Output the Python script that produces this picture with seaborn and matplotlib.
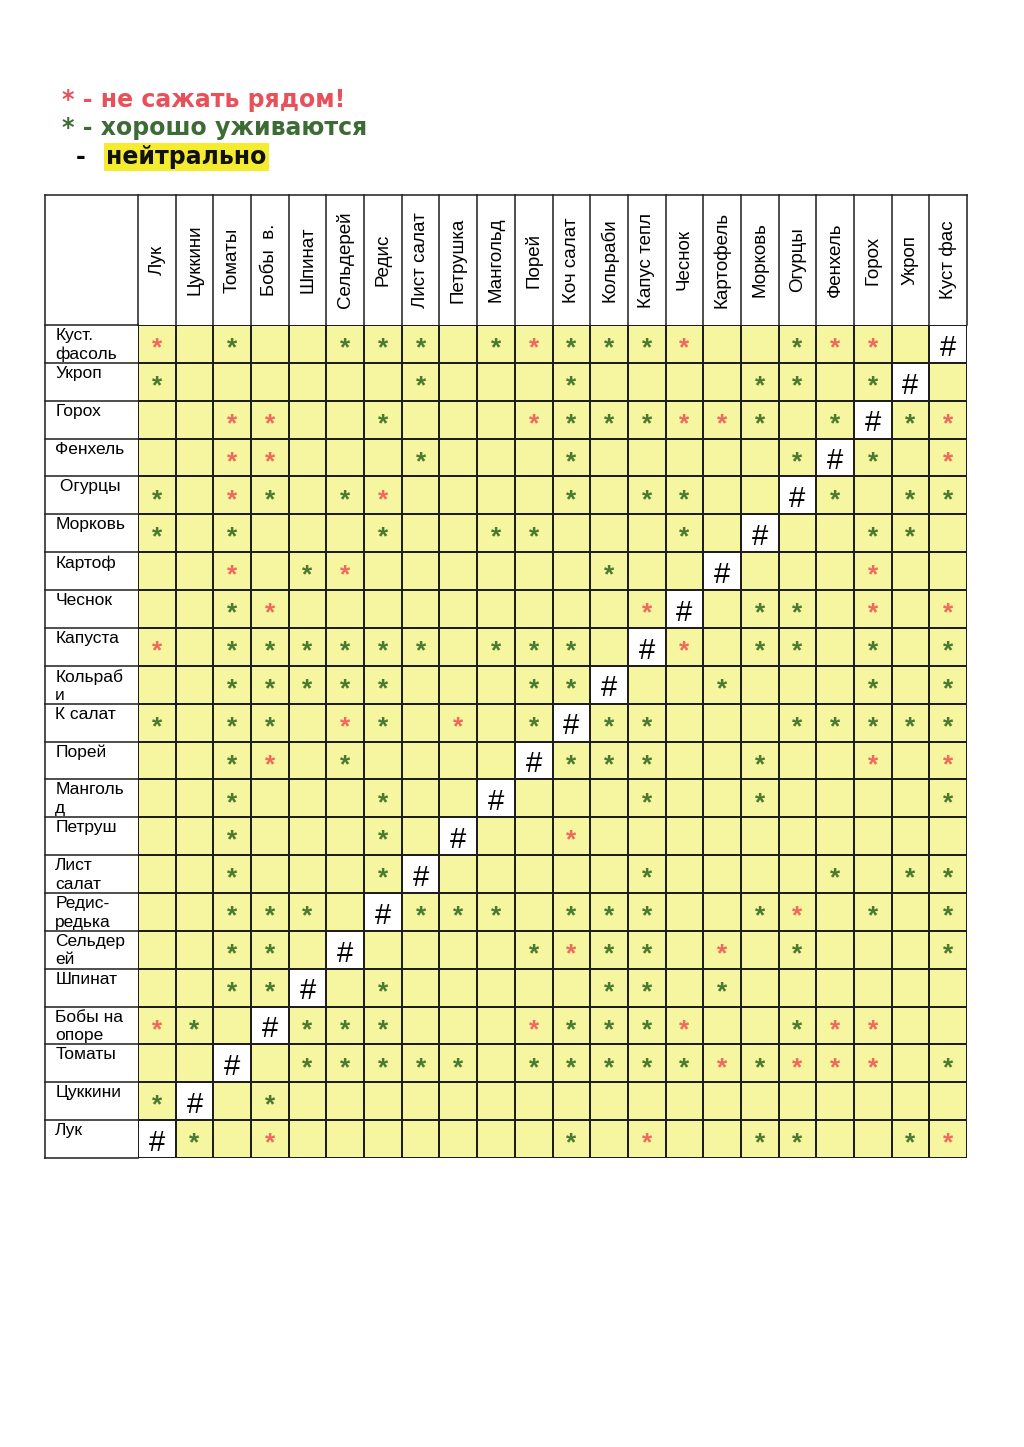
import numpy as np
import matplotlib
matplotlib.use("Agg")
import matplotlib.pyplot as plt
import seaborn as sns
from matplotlib.colors import ListedColormap

# заголовки столбцов
col_labels = ["Лук", "Цуккини", "Томаты", "Бобы  в.", "Шпинат", "Сельдерей", "Редис",
              "Лист салат", "Петрушка", "Мангольд", "Порей", "Коч салат", "Кольраби",
              "Капус тепл", "Чеснок", "Картофель", "Морковь", "Огурцы", "Фенхель",
              "Горох", "Укроп", "Куст фас"]

# подписи строк
row_labels = ["Куст.\nфасоль", "Укроп", "Горох", "Фенхель", " Огурцы", "Морковь", "Картоф",
              "Чеснок", "Капуста", "Кольраб\nи", "К салат", "Порей", "Манголь\nд", "Петруш",
              "Лист\nсалат", "Редис-\nредька", "Сельдер\nей", "Шпинат", "Бобы на\nопоре",
              "Томаты", "Цуккини", "Лук"]

# b - не сажать рядом, g - хорошо уживаются, # - та же культура, . - нейтрально
compat = [
    "b.g..ggg.gbgggb..gbb.#",
    "g......g...g....gg.g#.",
    "..bb..g...bgggbbg.g#gb",
    "..bb...g...g.....g#g.b",
    "g.bg.gb....g.gg..#g.gg",
    "g.g...g..gg...g.#..gg.",
    "..b.gb......g..#...b..",
    "..gb.........b#.gg.b.b",
    "b.gggggg.ggg.#b.gg.g.g",
    "..ggggg...gg#..g...g.g",
    "g.gg.bg.b.g#gg...ggggg",
    "..gb.g....#ggg..g..b.b",
    "..g...g..#...g..g....g",
    "..g...g.#..b..........",
    "..g...g#.....g....g.gg",
    "..ggg.#ggg.ggg..gb.g.g",
    "..gg.#....gbgg.b.g...g",
    "..gg#.g.....gg.g......",
    "bg.#ggg...bgggb..gbb..",
    "..#.ggggg.gggggbgbbb.g",
    "g#.g..................",
    "#g.b.......g.b..gg..gb",
]

legend_bad = "* - не сажать рядом!"
legend_good = "* - хорошо уживаются"
legend_neutral = "нейтрально"

YELLOW = "#f6f5a0"
RED = "#f06a5c"
GREEN = "#4a7a30"
LINE = "#1e1e1e"

codes = np.array([list(r) for r in compat])
cells = (codes == "#").astype(int)
annot = np.where(codes == "#", "#", np.where(codes == ".", "", "*"))

fig = plt.figure(figsize=(10.24, 14.47), dpi=100)
W, H = 1024, 1447
x0, x1, y0, y1 = 138, 967, 325, 1158
ax = fig.add_axes([x0 / W, 1 - y1 / H, (x1 - x0) / W, (y1 - y0) / H])

sns.heatmap(cells, ax=ax, cmap=ListedColormap([YELLOW, "white"]), cbar=False,
            linewidths=1.1, linecolor=LINE, annot=annot, fmt="",
            xticklabels=False, yticklabels=False,
            annot_kws={"family": "Liberation Sans"})

# раскраска звездочек (seaborn подписывает все ячейки построчно)
for t, code in zip(ax.texts, codes.ravel()):
    x, y = t.get_position()
    if code == "#":
        t.set_color("black")
        t.set_fontsize(21)
        t.set_position((x, y + 0.1))
    elif code != ".":
        t.set_color(RED if code == "b" else GREEN)
        t.set_fontsize(19)
        t.set_fontweight("bold")
        t.set_position((x, y + 0.12))

n = len(col_labels)
px = (x1 - x0) / n
py = (y1 - y0) / n
left = (45 - x0) / px
top = (195 - y0) / py

kw = dict(color=LINE, lw=1.1, clip_on=False, solid_capstyle="projecting")
ax.plot([left, left], [top, n], **kw)
ax.plot([left, n], [top, top], **kw)
for j in range(n + 1):
    ax.plot([j, j], [top, 0], **kw)
for i in range(n + 1):
    ax.plot([left, 0], [i, i], **kw)

for j, lab in enumerate(col_labels):
    ax.text(j + 0.5, top / 2, lab, rotation=90, ha="center", va="center",
            fontsize=13.5, family="Liberation Sans", clip_on=False)

for i, lab in enumerate(row_labels):
    ax.text(left + 0.27, i + 0.08, lab, ha="left", va="top", fontsize=12.5,
            family="Liberation Sans", linespacing=1.3, clip_on=False)

# легенда
fig.text(62 / W, 1 - 100 / H, legend_bad, color="#e8505a", fontsize=17,
         fontweight="bold", family="DejaVu Sans", va="center")
fig.text(62 / W, 1 - 128 / H, legend_good, color="#3d6b35", fontsize=17,
         fontweight="bold", family="DejaVu Sans", va="center")
fig.text(76 / W, 1 - 157 / H, "-", color="black", fontsize=17,
         fontweight="bold", family="DejaVu Sans", va="center")
fig.text(106 / W, 1 - 157 / H, legend_neutral, color="#111111", fontsize=17,
         fontweight="bold", family="DejaVu Sans", va="center",
         bbox=dict(facecolor="#f5ec30", edgecolor="none", pad=1.5))

fig.savefig("out.png", dpi=100, facecolor="white")
